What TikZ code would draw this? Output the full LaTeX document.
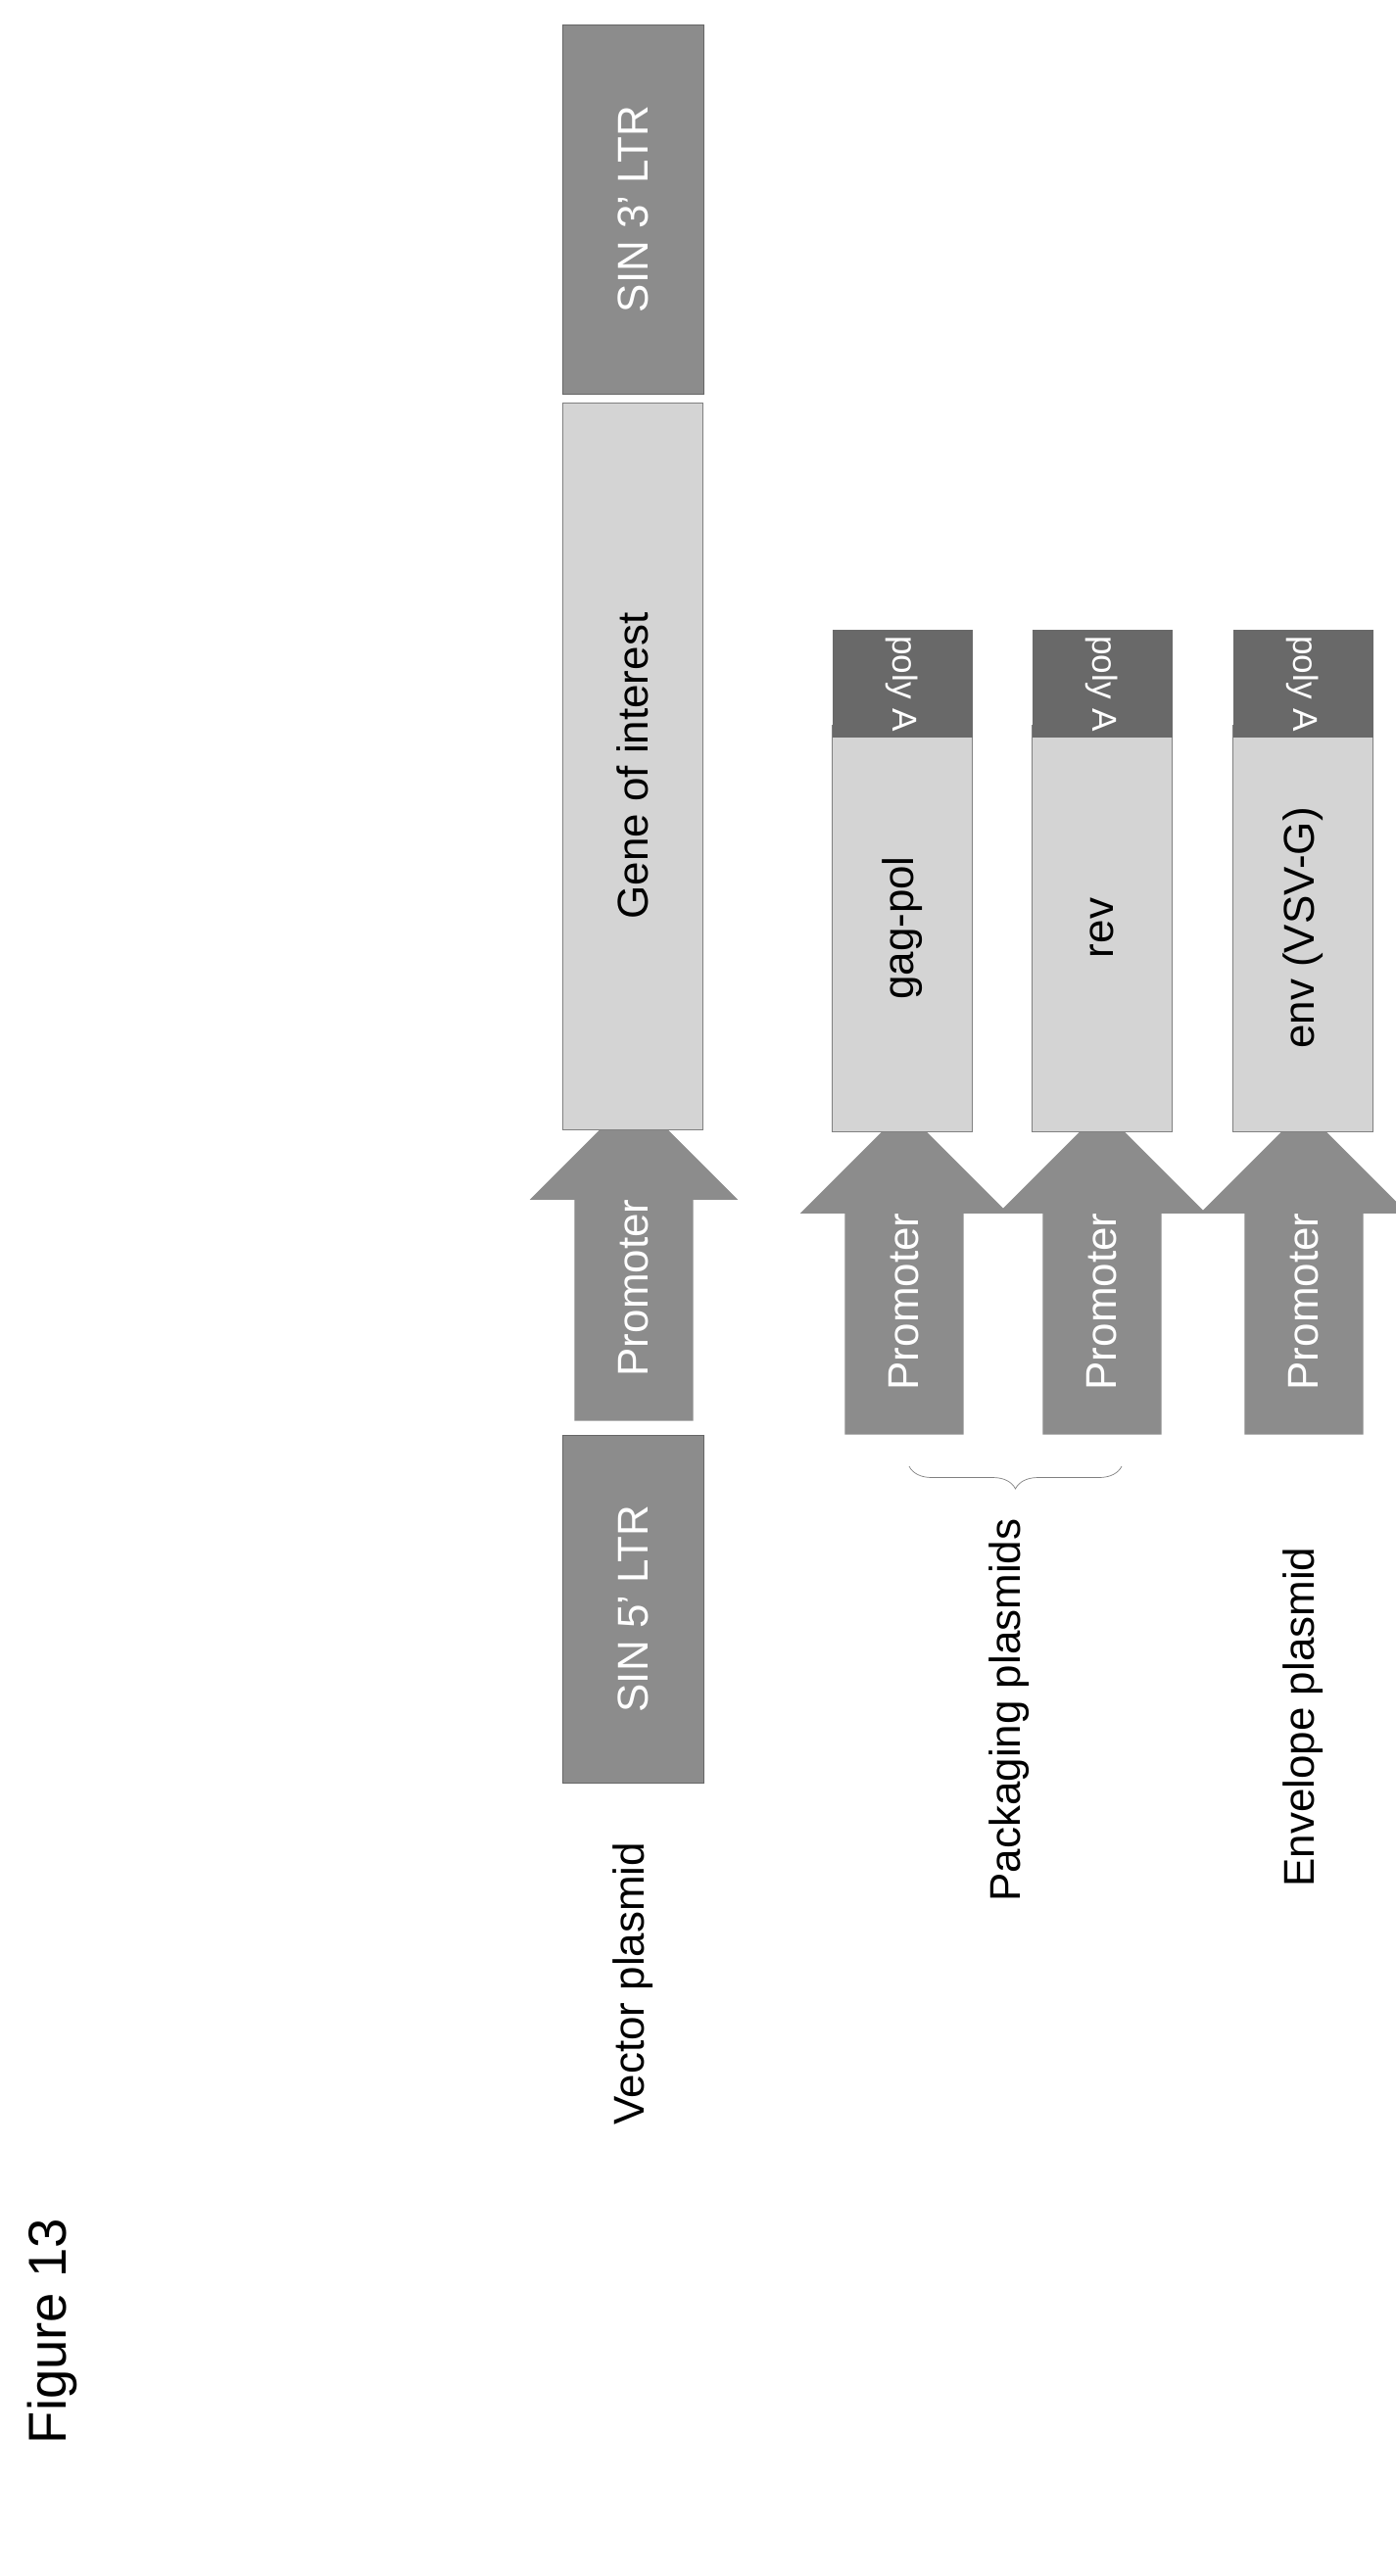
\documentclass[tikz,border=0pt]{standalone}
\usepackage{fontspec}
\setmainfont{Liberation Sans}
\usetikzlibrary{shapes.arrows, decorations.pathreplacing}

\definecolor{ltrgray}{RGB}{140,140,140}
\definecolor{genegray}{RGB}{212,212,212}
\definecolor{polygray}{RGB}{105,105,105}

\tikzset{
  ltrbox/.style = {rectangle, rotate=90, fill=ltrgray, draw=gray!80!black, minimum height=2.88cm, text=white, font=\fontsize{25}{29}\selectfont},
  genebox/.style = {rectangle, rotate=90, fill=genegray, draw=gray, minimum height=2.86cm, font=\fontsize{25}{29}\selectfont},
  polybox/.style = {rectangle, rotate=-90, fill=polygray, minimum width=1.2cm, minimum height=2.86cm, text=white, font=\fontsize{20}{24}\selectfont},
  promoter/.style = {single arrow, rotate=90, anchor=tail, fill=ltrgray, minimum width=3.7cm, single arrow head extend=0.91cm, minimum height=5.66cm, inner sep=0.9cm, text=white, font=\fontsize{25}{29}\selectfont},
  label/.style = {rotate=90, font=\fontsize{25}{29}\selectfont}
}

\begin{document}
\begin{tikzpicture}
	\useasboundingbox (0,0) rectangle (28.5,-52.6);
	\node[rotate=90, font=\fontsize{31}{36}\selectfont] (fig) at (1.06,-47.6) {Figure 13};

	% vector plasmid
	\node[label] (vector) at (12.92,-40.5) {Vector plasmid};
	\node[ltrbox, minimum width=7.1cm] (ltr5) at (12.92,-32.85) {SIN 5' LTR};
	\node[promoter, minimum height=5.66cm] (prom1) at (12.94,-29.02) {Promoter};
	\node[genebox, minimum width=14.84cm] (goi) at (12.92,-15.64) {Gene of interest};
	\node[ltrbox, minimum width=7.54cm] (ltr3) at (12.92,-4.27) {SIN 3' LTR};

	% packaging plasmids
	\node[label] (packaging) at (20.6,-34.92) {Packaging plasmids};
	\draw[gray, decorate, decoration={brace, amplitude=0.46cm}] (22.9,-29.94) -- (18.56,-29.94);
	\node[promoter] (prom2) at (18.46,-29.3) {Promoter};
	\node[genebox, minimum width=8.3cm] (gagpol) at (18.42,-18.95) {gag-pol};
	\node[polybox] (poly1) at (18.42,-13.96) {poly A};
	\node[promoter] (prom3) at (22.5,-29.3) {Promoter};
	\node[genebox, minimum width=8.3cm] (rev) at (22.5,-18.95) {rev};
	\node[polybox] (poly2) at (22.5,-13.96) {poly A};

	% envelope plasmid
	\node[label] (envelope) at (26.6,-35.06) {Envelope plasmid};
	\node[promoter] (prom4) at (26.62,-29.3) {Promoter};
	\node[genebox, minimum width=8.3cm] (env) at (26.6,-18.95) {env (VSV-G)};
	\node[polybox] (poly3) at (26.6,-13.96) {poly A};
\end{tikzpicture}
\end{document}
